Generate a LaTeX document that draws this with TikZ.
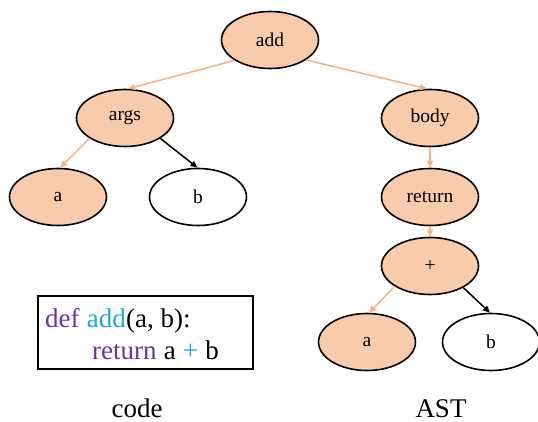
\documentclass[tikz,border=0pt]{standalone}
\usepackage{fontspec}
\setmainfont{Liberation Serif}
\usetikzlibrary{shapes.geometric,arrows.meta}
\definecolor{peach}{HTML}{F8CBAD}
\definecolor{edgeorange}{HTML}{F4B183}
\definecolor{kwpurple}{HTML}{7030A0}
\definecolor{kwcyan}{RGB}{30,168,214}
\tikzset{
  astnode/.style={ellipse, draw=black, line width=1.6pt, minimum width=97pt, minimum height=57pt, inner sep=0pt, font=\fontsize{19.5}{21}\selectfont},
  hot/.style={astnode, fill=peach},
  cold/.style={astnode, fill=white},
  hotedge/.style={draw=edgeorange, line width=1.5pt, -{Triangle[length=7pt,width=6pt]}},
  coldedge/.style={draw=black, line width=1.5pt, -{Triangle[length=7pt,width=6pt]}},
  codetext/.style={anchor=base west, inner sep=0pt, font=\fontsize{27}{29}\selectfont},
  caption/.style={anchor=base, inner sep=0pt, font=\fontsize{27}{29}\selectfont}
}
\begin{document}
\begin{tikzpicture}[x=1pt,y=-1pt]
\useasboundingbox (0,0) rectangle (538,422);
% tree
\node[hot] (add) at (270,40) {add};
\node[hot] (args) at (125,118) {args};
\node[hot] (body) at (430,118) {body};
\node[hot] (a1) at (58,197) {a};
\node[cold] (b1) at (198,197) {b};
\node[hot] (ret) at (430,197) {return};
\node[hot] (plus) at (430,266) {+};
\node[hot] (a2) at (367,342) {a};
\node[cold] (b2) at (491,342) {b};
\draw[hotedge] (add.210) -- (args.84);
\draw[hotedge] (add.331) -- (body.96);
\draw[hotedge] (args.210) -- (a1.86);
\draw[coldedge] (args.330) -- (b1.91);
\draw[hotedge] (body.south) -- (ret.north);
\draw[hotedge] (ret.south) -- (plus.north);
\draw[hotedge] (plus.210) -- (a2.86);
\draw[coldedge] (plus.327) -- (b2.92);
% code box
\node[draw=black, line width=1.6pt, rectangle, minimum width=215pt, minimum height=73pt, inner sep=0pt] (box) at (145.5,332.5) {};
\node[codetext, text=kwpurple] (def) at (45,327) {def};
\node[codetext, text=kwcyan] (fn) at ([xshift=6.75pt]def.base east) {add};
\node[codetext] (params) at (fn.base east) {(a, b):};
\node[codetext, text=kwpurple] (kret) at (92,359) {return};
\node[codetext] (va) at ([xshift=6.75pt]kret.base east) {a};
\node[codetext, text=kwcyan] (op) at ([xshift=6.75pt]va.base east) {+};
\node[codetext] (vb) at ([xshift=6.75pt]op.base east) {b};
% captions
\node[caption] (code) at (137,417) {code};
\node[caption] (ast) at (441,417) {AST};
\end{tikzpicture}
\end{document}
